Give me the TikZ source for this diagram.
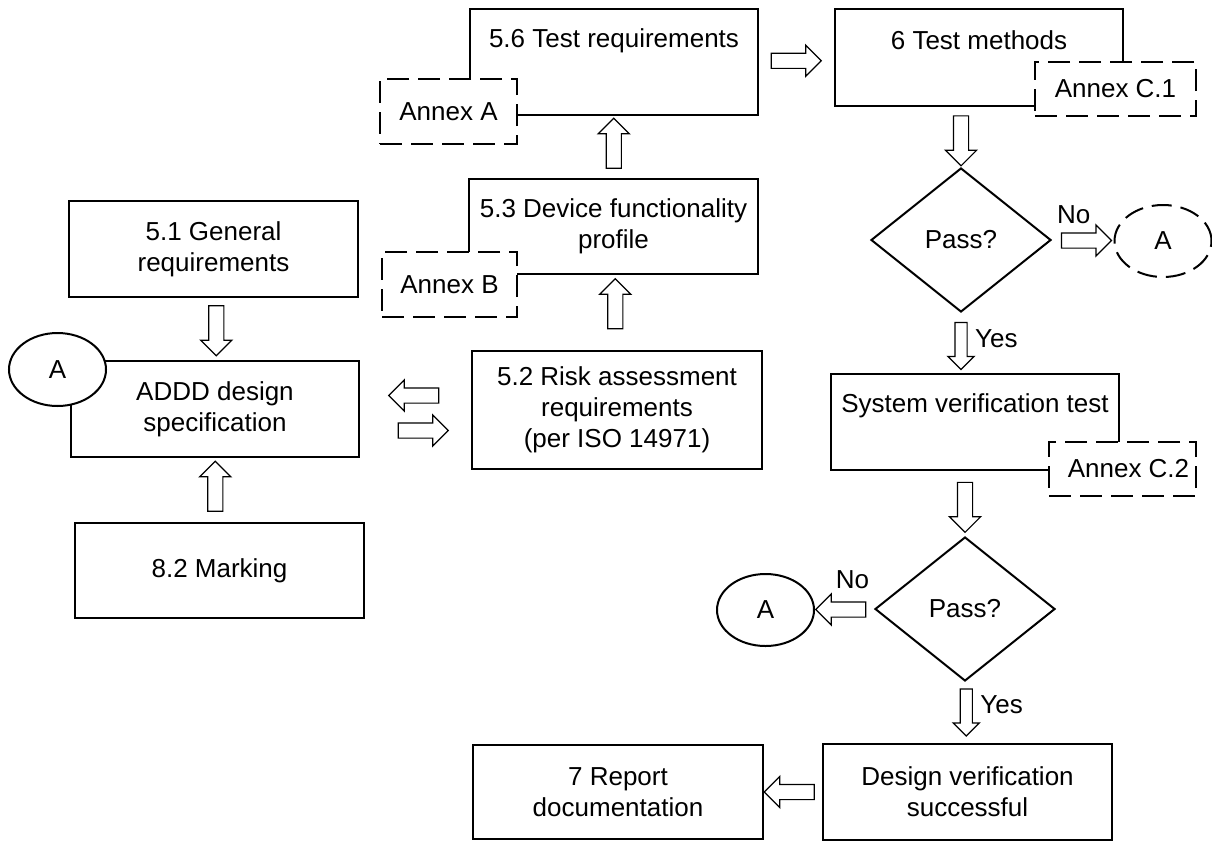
\documentclass[tikz,border=0pt]{standalone}
\usepackage{fontspec}
\setmainfont{Liberation Sans}
\usetikzlibrary{shapes.geometric,shapes.arrows,calc}
\newcommand\myfs{\fontsize{26}{31}\selectfont}
\tikzset{
  box/.style={draw, line width=2.2pt, fill=white, align=center, inner sep=0pt, font=\myfs},
  annex/.style={draw, line width=2pt, fill=white, dash pattern=on 22pt off 9pt, font=\myfs, inner sep=0pt},
  dec/.style={draw, diamond, line width=2pt, fill=white, inner sep=0pt, font=\myfs, minimum width=180pt, minimum height=144pt},
  conn/.style={draw, ellipse, line width=2pt, fill=white, minimum width=97pt, minimum height=73pt, inner sep=0pt, font=\myfs},
  barrow/.style={draw, single arrow, fill=white, line width=1.2pt, minimum height=50pt, minimum width=30pt, single arrow head extend=8pt, inner xsep=0pt, inner ysep=7pt},
  narrow/.style={minimum width=25pt, inner ysep=5.5pt, single arrow head extend=7pt, minimum height=47pt},
  lbl/.style={font=\myfs, inner sep=0pt},
}
\begin{document}
\begin{tikzpicture}[x=1pt,y=-1pt]
\useasboundingbox (0,0) rectangle (1212,841);
% main boxes
\node[box, minimum width=289pt, minimum height=96pt] (b51) at (213.5,249) {5.1 General\\requirements};
\node[box, minimum width=288pt, minimum height=96pt] (addd) at (215,409) {ADDD design\\specification};
\node[box, minimum width=289pt, minimum height=95pt] (b82) at (219.5,570.5) {8.2 Marking};
\node[box, minimum width=288pt, minimum height=106pt] (b56) at (614,62) {};
\node[lbl, anchor=base] (t56) at (614,47) {5.6 Test requirements};
\node[box, minimum width=289pt, minimum height=95pt] (b53) at (613.5,226.5) {5.3 Device functionality\\profile};
\node[box, minimum width=290pt, minimum height=118pt] (b52) at (617,410) {5.2 Risk assessment\\requirements\\(per ISO 14971)};
\node[box, minimum width=288pt, minimum height=97pt] (b6) at (979,57.5) {};
\node[lbl, anchor=base] (t6) at (979,49) {6 Test methods};
\node[box, minimum width=288pt, minimum height=96pt] (sys) at (975,422) {};
\node[lbl, anchor=base] (tsys) at (975,412) {System verification test};
\node[box, minimum width=289pt, minimum height=96pt] (design) at (967.5,792) {Design verification\\successful};
\node[box, minimum width=290pt, minimum height=94pt] (report) at (618,792) {7 Report\\documentation};
% annexes
\node[annex, minimum width=137pt, minimum height=65pt] (anA) at (448.5,111.5) {Annex A};
\node[annex, minimum width=135pt, minimum height=65pt] (anB) at (449.5,284.5) {Annex B};
\node[annex, minimum width=161pt, minimum height=54pt] (anC1) at (1115.5,89) {Annex C.1};
\node[annex, minimum width=147pt, minimum height=54pt] (anC2) at (1122.5,469) {\hspace*{12pt}Annex C.2};
% decisions
\node[dec] (p1) at (961,240) {Pass?};
\node[dec] (p2) at (965,609) {Pass?};
% connectors A
\node[conn] (A1) at (57.5,369.5) {A};
\node[conn, dash pattern=on 20pt off 9pt, minimum height=72pt] (A2) at (1163,241) {A};
\node[conn, minimum height=72pt] (A3) at (765.5,610) {A};
% block arrows
\node[barrow] (a1) at ($(b56.east)!0.5!(b6.west)+(-4,1)$) {};
\node[barrow, rotate=90] (a2) at ($(b53.north)!0.5!(b56.south)$) {};
\node[barrow, rotate=90] (a3) at ($(b52.north)!0.5!(b53.south)+(0,-5)$) {};
\node[barrow, rotate=-90] (a4) at ($(b51.south)!0.5!(addd.north)+(2,-2)$) {};
\node[barrow, rotate=90] (a5) at ($(b82.north)!0.5!(addd.south)+(-2,0)$) {};
\node[barrow, rotate=180] (a6) at ($(addd.east)!0.5!(b52.west)+(2,-14)$) {};
\node[barrow] (a7) at ($(addd.east)!0.5!(b52.west)+(4,21)$) {};
\node[barrow, rotate=-90] (a8) at (p1.north |- {$(b6.south)!0.5!(p1.north)$}) {};
\node[barrow] (a9) at ($(p1.east)!0.5!(A2.west)$) {};
\node[barrow, narrow, rotate=-90] (a10) at (p1.south |- {$(p1.south)!0.5!(sys.north)$}) {};
\node[barrow, rotate=-90] (a11) at (p2.north |- {$(sys.south)!0.5!(p2.north)$}) {};
\node[barrow, rotate=180] (a12) at ($(p2.west)!0.5!(A3.east)$) {};
\node[barrow, narrow, rotate=-90] (a13) at ($(p2.south)!0.5!(design.north)+(0,-3)$) {};
\node[barrow, rotate=180] (a14) at ($(design.west)!0.5!(report.east)$) {};
% labels
\node[lbl] (no1) at ($(a9.center)+(-9,-26)$) {No};
\node[lbl, anchor=west] (yes1) at ($(a10.center)+(14,-4)$) {Yes};
\node[lbl] (no2) at ($(a12.center)+(8,-30)$) {No};
\node[lbl, anchor=west] (yes2) at ($(a13.center)+(14,-5)$) {Yes};
\end{tikzpicture}
\end{document}
